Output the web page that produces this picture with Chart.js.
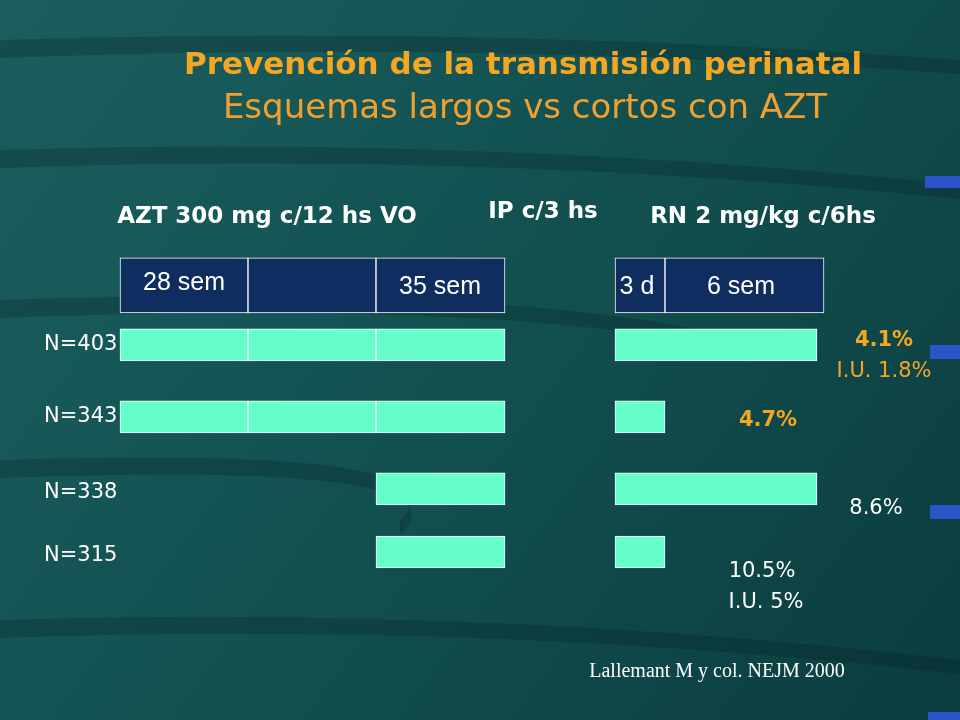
<!DOCTYPE html>
<html><head><meta charset="utf-8">
<script src="https://cdn.jsdelivr.net/npm/chart.js@4/dist/chart.umd.min.js"></script>
<style>html,body{margin:0;padding:0;background:#0f4646}#w{width:960px;height:720px}</style>
</head><body><div id="w"><canvas id="c"></canvas></div>
<script>
// Rows (top to bottom) and regimen segments on a shared timeline scale (0..960 units)
const rows = ["header", "N=403", "N=343", "N=338", "N=315"];
const rowPos = [276, 343, 424, 505, 576];
const headerSegs = [[120,248],[248,376],[376,505],[615,665],[665,824]];
const headerLabels = ["28 sem", "", "35 sem", "3 d", "6 sem"];
const armSegs = [
  [[120,248],[248,376],[376,505],[615,817]],
  [[120,248],[248,376],[376,505],[615,665]],
  [[376,505],[615,817]],
  [[376,505],[615,665]]
];
const rates = ["4.1%", "4.7%", "8.6%", "10.5%"];
const iuRates = ["I.U. 1.8%", "", "", "I.U. 5%"];

const headerData = headerSegs.map(s => ({x: s, y: rowPos[0]}));
const armData = [];
armSegs.forEach((segs, i) => segs.forEach(s => armData.push({x: s, y: rowPos[i+1]})));

const bg = {
  id: 'bg',
  beforeDraw(ch) {
    const c = ch.ctx, W = ch.width, H = ch.height;
    const g = c.createLinearGradient(0,0,W,H);
    g.addColorStop(0,'#1b5e5e'); g.addColorStop(0.5,'#125050'); g.addColorStop(1,'#0b3c3e');
    c.fillStyle = g; c.fillRect(0,0,W,H);
    c.save(); c.globalAlpha = 0.25; c.fillStyle = '#021c20';
    [[0,40,960,60],[0,150,960,185],[0,300,700,330],[0,620,960,660],[0,460,400,520]].forEach(([x1,y1,x2,y2])=>{
      c.beginPath(); c.moveTo(x1,y1); c.quadraticCurveTo(W/2,y1-15,x2,y2); c.lineTo(x2,y2+14); c.quadraticCurveTo(W/2,y1,x1,y1+18); c.fill();
    });
    c.restore();
    c.fillStyle = '#2a55c8';
    [[925,176,35,12],[930,345,30,14],[930,505,30,14],[928,712,32,8]].forEach(r=>c.fillRect(...r));
  }
};

const txt = {
  id: 'txt',
  afterDatasetsDraw(ch) {
    const c = ch.ctx, ys = ch.scales.y;
    const t = (s,x,y,font,col,al='center') => { c.font = font; c.fillStyle = col; c.textAlign = al; c.textBaseline = 'middle'; c.fillText(s,x,y); };
    t('Prevención de la transmisión perinatal', 523, 66, 'bold 31px "DejaVu Sans"', '#f5a623');
    t('Esquemas largos vs cortos con AZT', 525, 109, '34px "DejaVu Sans"', '#f0a030');
    t('AZT 300 mg c/12 hs VO', 267, 217, 'bold 23px "DejaVu Sans"', '#ffffff');
    t('IP c/3 hs', 543, 212, 'bold 23px "DejaVu Sans"', '#ffffff');
    t('RN 2 mg/kg c/6hs', 763, 217, 'bold 23px "DejaVu Sans"', '#ffffff');
    const cxs = [184, 0, 440, 637, 741];
    const hy = ys.getPixelForValue(rowPos[0]);
    headerLabels.forEach((l,i) => { if (l) t(l, cxs[i], i===0 ? hy-2 : hy+2, '25px "Liberation Sans"', '#ffffff'); });
    rows.slice(1).forEach((r,i) => t(r, 44, ys.getPixelForValue(rowPos[i+1]) + (i>=2?4:0), '21px "DejaVu Sans"', '#ffffff', 'left'));
    t(rates[0], 884, 341, 'bold 21px "DejaVu Sans"', '#f5a623');
    t(iuRates[0], 884, 372, '21px "DejaVu Sans"', '#f5a623');
    t(rates[1], 768, 421, 'bold 21px "DejaVu Sans"', '#f5a623');
    t(rates[2], 876, 509, '21px "DejaVu Sans"', '#ffffff');
    t(rates[3], 762, 572, '21px "DejaVu Sans"', '#ffffff');
    t(iuRates[3], 766, 603, '21px "DejaVu Sans"', '#ffffff');
    t('Lallemant M y col. NEJM 2000', 717, 672, '20px "Liberation Serif"', '#ffffff');
  }
};

new Chart(document.getElementById('c'), {
  type: 'bar',
  data: { datasets: [
    { data: headerData, backgroundColor: '#0f2d5e', borderColor: '#ffffff', borderWidth: 1, borderSkipped: false, barThickness: 55, grouped: false },
    { data: armData, backgroundColor: '#66ffcc', borderColor: '#ffffff', borderWidth: 1, borderSkipped: false, barThickness: 32, grouped: false }
  ]},
  options: {
    indexAxis: 'y', responsive: true, maintainAspectRatio: false, animation: false,
    layout: { padding: 0 },
    plugins: { legend: {display:false}, tooltip: {enabled:false} },
    scales: {
      x: { type: 'linear', min: 0, max: 960, display: false },
      y: { type: 'linear', min: 0, max: 720, reverse: true, display: false }
    }
  },
  plugins: [bg, txt]
});
</script></body></html>
